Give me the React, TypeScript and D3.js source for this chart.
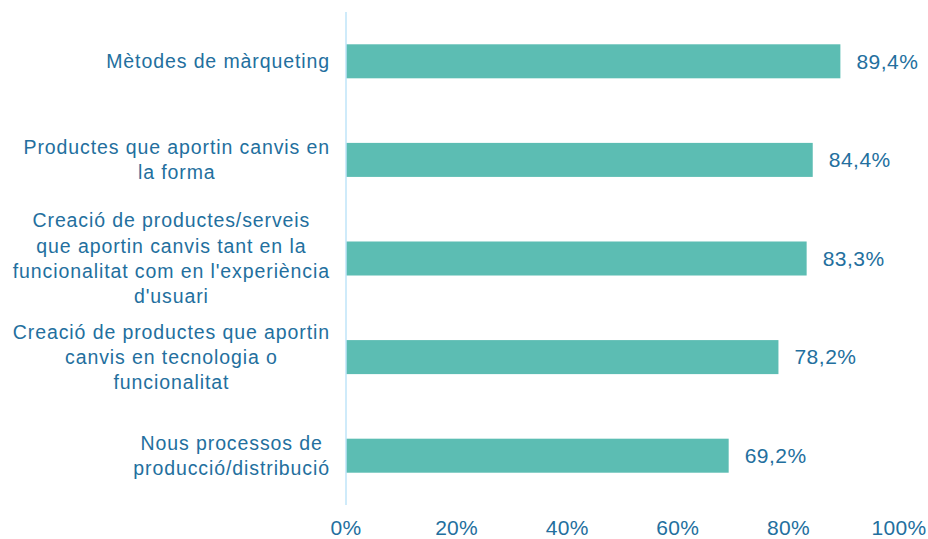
import React, { useEffect, useRef } from "react";
import * as d3 from "d3";

const categories: string[][] = [
  ["Mètodes de màrqueting"],
  ["Productes que aportin canvis en", "la forma"],
  ["Creació de productes/serveis", "que aportin canvis tant en la", "funcionalitat com en l'experiència", "d'usuari"],
  ["Creació de productes que aportin", "canvis en tecnologia o", "funcionalitat"],
  ["Nous processos de", "producció/distribució"],
];
const values: number[] = [89.4, 84.4, 83.3, 78.2, 69.2];
const ticks: number[] = [0, 20, 40, 60, 80, 100];

const W = 928;
const H = 539;
const TEXT = "#236f9e";
const BAR = "#5cbdb3";
const AXIS = "#bfe4f8";
const FONT = "'Liberation Sans', Arial, sans-serif";

export default function App() {
  const ref = useRef<SVGSVGElement>(null);
  useEffect(() => {
    const svg = d3.select(ref.current);
    svg.selectAll("*").remove();
    const x = d3.scaleLinear().domain([0, 100]).range([346, 899]);
    const y = d3
      .scaleBand<number>()
      .domain(d3.range(values.length))
      .range([12, 505])
      .paddingInner(0.655)
      .paddingOuter(0.3275);

    svg
      .append("g")
      .selectAll("rect")
      .data(values)
      .join("rect")
      .attr("x", x(0))
      .attr("y", (_, i) => y(i)!)
      .attr("width", (d) => x(d) - x(0))
      .attr("height", y.bandwidth())
      .attr("fill", BAR);

    svg
      .append("line")
      .attr("x1", x(0))
      .attr("x2", x(0))
      .attr("y1", 12)
      .attr("y2", 505)
      .attr("stroke", AXIS)
      .attr("stroke-width", 1.5);

    svg
      .append("g")
      .selectAll("text")
      .data(values)
      .join("text")
      .attr("x", (d) => x(d) + 16)
      .attr("y", (_, i) => y(i)! + y.bandwidth() / 2)
      .attr("dy", "0.35em")
      .attr("fill", TEXT)
      .attr("font-family", FONT)
      .attr("font-size", 21)
      .attr("letter-spacing", 0.5)
      .text((d) => d.toFixed(1).replace(".", ",") + "%");

    svg
      .append("g")
      .selectAll("text")
      .data(ticks)
      .join("text")
      .attr("x", (d) => x(d))
      .attr("y", 528)
      .attr("dy", "0.35em")
      .attr("text-anchor", "middle")
      .attr("fill", TEXT)
      .attr("font-family", FONT)
      .attr("font-size", 21)
      .attr("letter-spacing", 0.3)
      .text((d) => d + "%");

    const lh = 25.3;
    const labels = svg.append("g");
    categories.forEach((lines, i) => {
      const cy = y(i)! + y.bandwidth() / 2;
      const g = labels.append("g");
      const texts = lines.map((l, j) =>
        g
          .append("text")
          .attr("y", cy + (j - (lines.length - 1) / 2) * lh)
          .attr("dy", "0.35em")
          .attr("text-anchor", "middle")
          .attr("fill", TEXT)
          .attr("font-family", FONT)
          .attr("font-size", 19.5)
          .attr("letter-spacing", 0.9)
          .text(l)
      );
      const maxW = d3.max(texts, (t) => (t.node() as SVGTextElement).getComputedTextLength()) || 0;
      const cx = 330 - maxW / 2;
      texts.forEach((t) => t.attr("x", cx));
    });
  }, []);
  return (
    <svg
      ref={ref}
      width={W}
      height={H}
      style={{ position: "absolute", left: 0, top: 0, background: "#fff" }}
    />
  );
}
